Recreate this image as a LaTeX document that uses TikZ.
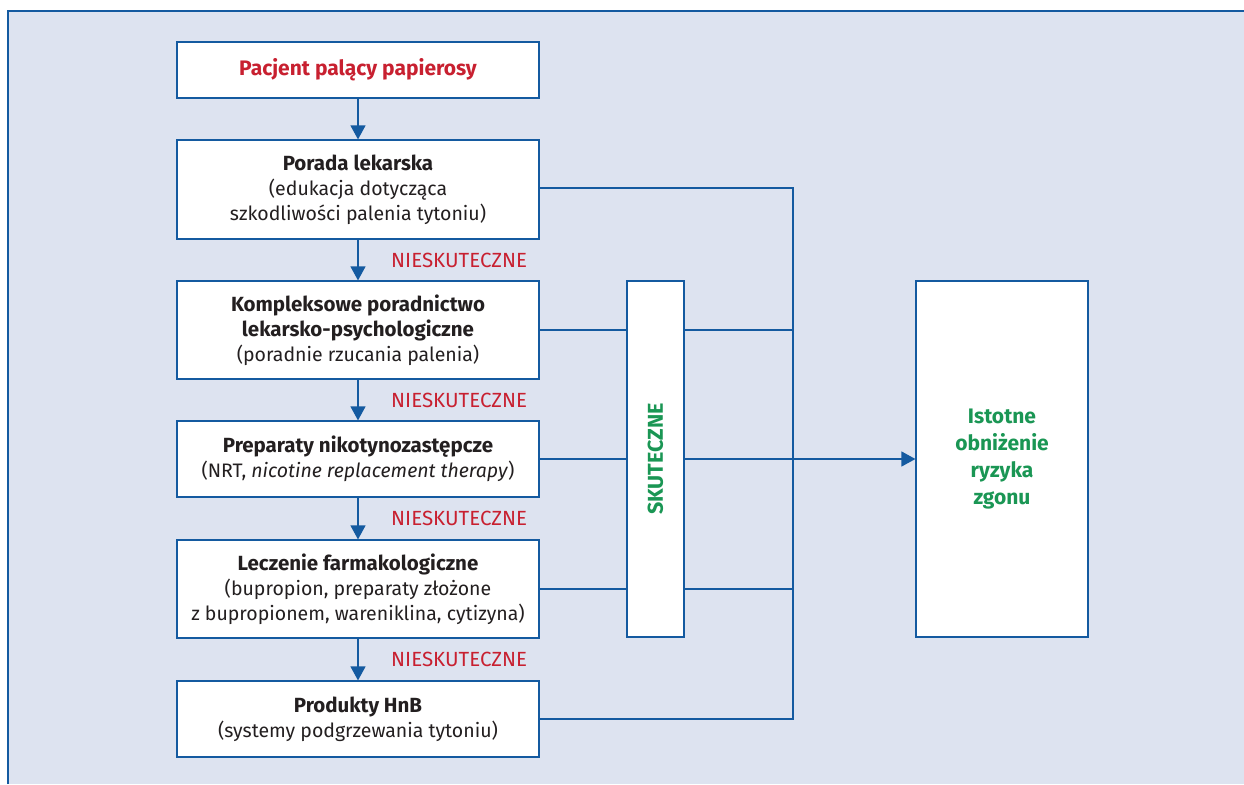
\documentclass[tikz,border=0pt]{standalone}
\usepackage{fontspec}
\setmainfont{Fira Sans}
\usetikzlibrary{arrows.meta,calc}
\definecolor{lineblue}{RGB}{20,90,160}
\definecolor{panel}{RGB}{221,227,240}
\definecolor{alertred}{RGB}{200,32,48}
\definecolor{okgreen}{RGB}{26,150,84}
\definecolor{ink}{RGB}{35,31,32}
\newcommand\stephead[1]{{\fontsize{20.5}{25}\selectfont\bfseries #1}}
\tikzset{
  box/.style={draw=lineblue, line width=1.2pt, fill=white, minimum width=362pt,
    align=center, text=ink, inner sep=0pt, font=\fontsize{19.5}{25}\selectfont},
  link/.style={draw=lineblue, line width=1.3pt},
  flow/.style={link, -{Triangle[length=14pt,width=15pt]}},
  fail/.style={text=alertred, font=\fontsize{20.5}{22}\selectfont, anchor=west, inner sep=0pt}
}
\begin{document}
\begin{tikzpicture}[x=1pt,y=-1pt]
\useasboundingbox (0,0) rectangle (1244,784);
% panel
\fill[panel] (8,11) rectangle (1244,784);
\draw[lineblue, line width=1.6pt] (8,784) -- (8,11) -- (1244,11);

% steps
\node[box, minimum height=56pt, font=\fontsize{21}{25}\selectfont\bfseries, text=alertred] (b1) at (358,70) {Pacjent palący papierosy};
\node[box, minimum height=99pt] (b2) at (358,189.5) {\stephead{Porada lekarska}\\(edukacja dotycząca\\szkodliwości palenia tytoniu)};
\node[box, minimum height=98pt] (b3) at (358,330) {\stephead{Kompleksowe poradnictwo}\\\stephead{lekarsko-psychologiczne}\\(poradnie rzucania palenia)};
\node[box, minimum height=76pt] (b4) at (358,459) {\stephead{Preparaty nikotynozastępcze}\\(NRT, \textit{nicotine replacement therapy})};
\node[box, minimum height=98pt] (b5) at (358,589) {\stephead{Leczenie farmakologiczne}\\(bupropion, preparaty złożone\\z bupropionem, wareniklina, cytizyna)};
\node[box, minimum height=76pt] (b6) at (358,719) {\stephead{Produkty HnB}\\(systemy podgrzewania tytoniu)};

% success column and outcome
\node[box, minimum width=57pt, minimum height=356pt] (sk) at (655.5,459) {};
\node[rotate=90, text=okgreen, font=\fontsize{21.5}{22}\selectfont\bfseries] (skt) at (sk.center) {SKUTECZNE};
\node[box, minimum width=172pt, minimum height=356pt, text=okgreen,
  font=\fontsize{21}{27}\selectfont\bfseries] (res) at (1002,459) {Istotne\\obniżenie\\ryzyka\\zgonu};

\coordinate (bus) at (793,188);

% downward chain
\draw[flow] (b1) -- (b2);
\draw[flow] (b2) -- (b3);
\draw[flow] (b3) -- (b4);
\draw[flow] (b4) -- (b5);
\draw[flow] (b5) -- (b6);

% failure labels
\node[fail] (n1) at ([xshift=33pt]$(b2.south)!0.5!(b3.north)$) {NIESKUTECZNE};
\node[fail] (n2) at ([xshift=33pt]$(b3.south)!0.5!(b4.north)$) {NIESKUTECZNE};
\node[fail] (n3) at ([xshift=33pt]$(b4.south)!0.5!(b5.north)$) {NIESKUTECZNE};
\node[fail] (n4) at ([xshift=33pt]$(b5.south)!0.5!(b6.north)$) {NIESKUTECZNE};

% success connections
\draw[link] (b2.east |- bus) -- (bus) -- (bus |- b6.east) -- (b6.east);
\foreach \b in {b3,b4,b5}{
  \draw[link] (\b.east) -- (\b.east -| sk.west);
  \draw[link] (\b.east -| sk.east) -- (\b.east -| bus);
}
\draw[flow] (b4.east -| bus) -- (res.west);
\end{tikzpicture}
\end{document}
